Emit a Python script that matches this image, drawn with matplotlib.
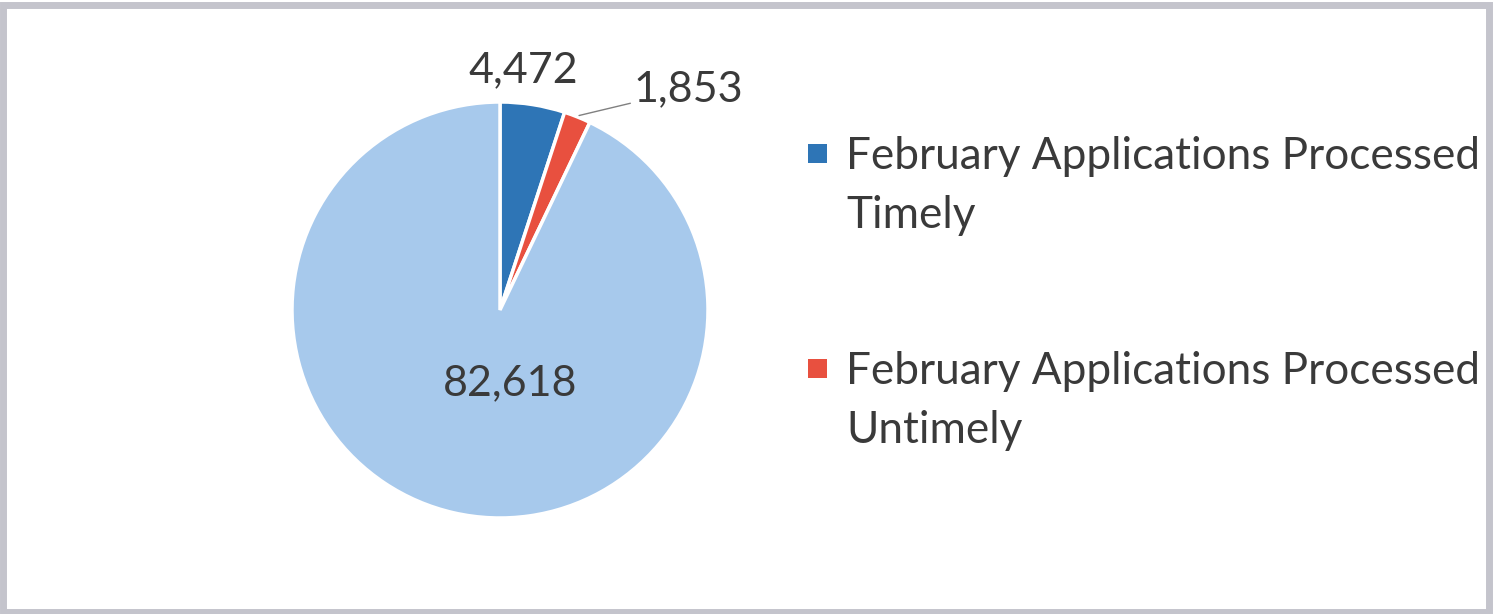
import matplotlib
matplotlib.use('Agg')
import matplotlib.pyplot as plt
from matplotlib.patches import Rectangle

labels = ['February Applications Processed\nTimely',
          'February Applications Processed\nUntimely',
          '']
values = [4472, 1853, 82618]
colors = ['#2E75B6', '#E8503F', '#A7C9EC']

plt.rcParams['font.family'] = ['Lato', 'DejaVu Sans']
text_color = '#3a3a3a'
W, H = 1495, 614

fig = plt.figure(figsize=(14.95, 6.14), dpi=100)
fig.patch.set_facecolor('white')

# scanned-looking gray frame
fig.patches.append(Rectangle((0.002, 0.004), 0.994, 0.988, transform=fig.transFigure,
                             fill=False, edgecolor='#c4c4cc', linewidth=5))

ax = fig.add_axes([292 / W, (H - 518) / H, 416 / W, 416 / H])
wedges, _ = ax.pie(values, colors=colors, startangle=90, counterclock=False,
                   radius=1, wedgeprops=dict(edgecolor='white', linewidth=2.5))
ax.set_xlim(-1, 1)
ax.set_ylim(-1, 1)
ax.set_aspect('equal')
ax.axis('off')

fs = 31
ax.text(0.11, 1.155, f'{values[0]:,}', ha='center', va='center', fontsize=fs, color=text_color)
ax.annotate(f'{values[1]:,}', xy=(0.38, 0.935), xytext=(0.64, 1.06),
            ha='left', va='center', fontsize=fs, color=text_color,
            arrowprops=dict(arrowstyle='-', color='#808080', lw=1,
                            shrinkA=0, shrinkB=0))
ax.text(0.05, -0.35, f'{values[2]:,}', ha='center', va='center', fontsize=fs, color=text_color)

# legend: square marker next to the first line, label wrapped on two lines
entry_tops = [144, 359]
for wedge, label, top in zip(wedges[:2], labels[:2], entry_tops):
    fig.patches.append(Rectangle((808 / W, (H - top - 19) / H), 19 / W, 19 / H,
                                 transform=fig.transFigure,
                                 facecolor=wedge.get_facecolor(), edgecolor='none'))
    for i, line in enumerate(label.split('\n')):
        baseline = top + 25 + 59 * i
        fig.text(846 / W, (H - baseline) / H, line, ha='left', va='baseline',
                 fontsize=31.8, color=text_color)

fig.savefig('out.png', dpi=100, facecolor='white')
